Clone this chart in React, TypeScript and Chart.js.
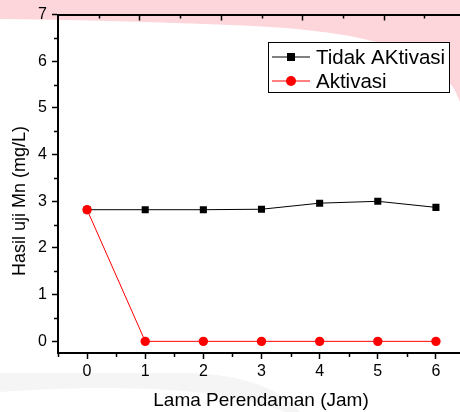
import React, { useEffect, useRef } from 'react';
import { Chart, registerables } from 'chart.js';
Chart.register(...registerables);

// ---- data ----
const hours = [0, 1, 2, 3, 4, 5, 6];
const tidakAktivasi = [2.82, 2.82, 2.82, 2.83, 2.96, 3.0, 2.87];
const aktivasi = [2.82, 0, 0, 0, 0, 0, 0];
const seriesLabels = ['Tidak AKtivasi', 'Aktivasi'];
const xTickValues = [0, 1, 2, 3, 4, 5, 6];
const yTickValues = [0, 1, 2, 3, 4, 5, 6, 7];
const xTitle = 'Lama Perendaman (Jam)';
const yTitle = 'Hasil uji Mn (mg/L)';

const FONT = '"Liberation Sans", Arial, sans-serif';
const VIEW_W = 460;
const VIEW_H = 412;
const CANVAS_W = 470; // the figure's right edge runs past the photographed frame

const backgroundPlugin = {
  id: 'slideBackground',
  beforeDraw(chart: any) {
    const { ctx, height } = chart;
    const width = VIEW_W;
    ctx.save();
    ctx.fillStyle = '#ffffff';
    ctx.fillRect(0, 0, chart.width, height);
    // pink swoosh at top
    ctx.fillStyle = '#fdd6db';
    ctx.beginPath();
    ctx.moveTo(0, 0);
    ctx.lineTo(chart.width, 0);
    ctx.lineTo(chart.width, 110);
    ctx.lineTo(width, 102);
    ctx.bezierCurveTo(width - 15, 55, width - 80, 30, 230, 25);
    ctx.quadraticCurveTo(100, 20, 0, 19);
    ctx.closePath();
    ctx.fill();
    // grey swoosh at bottom
    ctx.fillStyle = '#f5f5f5';
    ctx.beginPath();
    ctx.moveTo(0, 373);
    ctx.lineTo(190, 373);
    ctx.quadraticCurveTo(270, 376, 300, height);
    ctx.lineTo(0, height);
    ctx.closePath();
    ctx.fill();
    ctx.fillStyle = '#ffffff';
    ctx.beginPath();
    ctx.moveTo(0, height);
    ctx.lineTo(0, 392);
    ctx.quadraticCurveTo(200, 378, 285, height);
    ctx.closePath();
    ctx.fill();
    ctx.restore();
  },
};

const ticksPlugin = {
  id: 'extraTicks',
  afterDraw(chart: any) {
    const { ctx, chartArea } = chart;
    const x = chart.scales.x;
    const y = chart.scales.y;
    const x2 = chart.scales.x2;
    ctx.save();
    ctx.strokeStyle = '#000';
    ctx.lineWidth = 1.5;
    ctx.beginPath();
    // minor ticks left axis
    for (let v = 0.5; v < 7; v += 1) {
      const py = Math.round(y.getPixelForValue(v)) + 0.5;
      ctx.moveTo(chartArea.left - 4, py);
      ctx.lineTo(chartArea.left, py);
    }
    // minor ticks bottom axis
    for (let v = -0.5; v <= 6.5; v += 1) {
      const px = Math.round(x.getPixelForValue(v)) + 0.5;
      ctx.moveTo(px, chartArea.bottom);
      ctx.lineTo(px, chartArea.bottom + 4);
    }
    // inward ticks on top axis
    for (let v = 0.5; v <= 4.5; v += 0.5) {
      const px = Math.round(x2.getPixelForValue(v)) + 0.5;
      const len = Number.isInteger(v) ? 6 : 4;
      ctx.moveTo(px, chartArea.top);
      ctx.lineTo(px, chartArea.top + len);
    }
    ctx.stroke();
    // y axis title
    ctx.fillStyle = '#000';
    ctx.font = `18px ${FONT}`;
    ctx.textAlign = 'center';
    ctx.textBaseline = 'middle';
    ctx.translate(20.5, 201);
    ctx.rotate(-Math.PI / 2);
    ctx.fillText(yTitle, 0, 0);
    ctx.restore();
  },
};

const legendPlugin = {
  id: 'boxLegend',
  afterDraw(chart: any) {
    const { ctx } = chart;
    const bx = 268.5, by = 42.5, bw = 181, bh = 50;
    ctx.save();
    ctx.fillStyle = '#ffffff';
    ctx.fillRect(bx, by, bw, bh);
    ctx.strokeStyle = '#000';
    ctx.lineWidth = 1;
    ctx.strokeRect(bx, by, bw, bh);
    const rows = [57, 81];
    chart.data.datasets.forEach((ds: any, i: number) => {
      const cy = rows[i];
      ctx.strokeStyle = ds.borderColor;
      ctx.lineWidth = 1;
      ctx.beginPath();
      ctx.moveTo(272, cy);
      ctx.lineTo(310, cy);
      ctx.stroke();
      ctx.fillStyle = ds.pointBackgroundColor;
      if (ds.pointStyle === 'rect') {
        ctx.fillRect(291 - 4, cy - 4, 8, 8);
      } else {
        ctx.beginPath();
        ctx.arc(291, cy, 5, 0, Math.PI * 2);
        ctx.fill();
      }
      ctx.fillStyle = '#000';
      ctx.font = `20.5px ${FONT}`;
      ctx.textBaseline = 'middle';
      ctx.textAlign = 'left';
      ctx.fillText(ds.label, 316, cy + 1);
    });
    ctx.restore();
  },
};

export default function App() {
  const ref = useRef<HTMLCanvasElement | null>(null);
  useEffect(() => {
    document.body.style.margin = '0';
    document.body.style.overflow = 'hidden';
    const canvas = ref.current!;
    const chart = new Chart(canvas, {
      type: 'line',
      data: {
        datasets: [
          {
            label: seriesLabels[0],
            data: hours.map((h, i) => ({ x: h, y: tidakAktivasi[i] })),
            borderColor: '#000000',
            backgroundColor: '#000000',
            pointBackgroundColor: '#000000',
            pointStyle: 'rect',
            pointRadius: 5,
            pointBorderWidth: 0,
            borderWidth: 1,
            order: 1,
          },
          {
            label: seriesLabels[1],
            data: hours.map((h, i) => ({ x: h, y: aktivasi[i] })),
            borderColor: '#ff0000',
            backgroundColor: '#ff0000',
            pointBackgroundColor: '#ff0000',
            pointStyle: 'circle',
            pointRadius: 4.7,
            pointBorderWidth: 0,
            borderWidth: 1,
            order: 0,
          },
        ],
      },
      options: {
        animation: false,
        responsive: false,
        layout: { padding: 0 },
        plugins: { legend: { display: false }, tooltip: { enabled: false } },
        scales: {
          x: {
            type: 'linear',
            position: 'bottom',
            bounds: 'data',
            min: -0.5,
            max: 6.5,
            afterBuildTicks: (s: any) => { s.ticks = xTickValues.map((v) => ({ value: v })); },
            afterFit: (s: any) => { s.height = 59; },
            ticks: { color: '#000', font: { family: FONT, size: 16 }, padding: 3, maxRotation: 0, autoSkip: false },
            grid: { drawOnChartArea: false, tickLength: 6, tickColor: '#000', tickWidth: 1.5 },
            border: { color: '#000', width: 2 },
            title: { display: false, text: xTitle },
          },
          x2: {
            type: 'linear',
            position: 'top',
            bounds: 'data',
            min: 0,
            max: 5,
            afterFit: (s: any) => { s.height = 14; },
            ticks: { display: false },
            grid: { drawOnChartArea: false, drawTicks: false },
            border: { color: '#000', width: 2 },
          },
          y: {
            type: 'linear',
            position: 'left',
            bounds: 'data',
            min: -0.25,
            max: 7,
            afterBuildTicks: (s: any) => { s.ticks = yTickValues.map((v) => ({ value: v })); },
            afterFit: (s: any) => { s.width = 58; },
            ticks: { color: '#000', font: { family: FONT, size: 16 }, padding: 5, autoSkip: false },
            grid: { drawOnChartArea: false, tickLength: 6, tickColor: '#000', tickWidth: 1.5 },
            border: { color: '#000', width: 2 },
            title: { display: false, text: yTitle },
          },
        },
      } as any,
      plugins: [
        backgroundPlugin,
        ticksPlugin,
        legendPlugin,
        {
          id: 'xTitle',
          afterDraw(c: any) {
            const { ctx } = c;
            ctx.save();
            ctx.fillStyle = '#000';
            ctx.font = `19px ${FONT}`;
            ctx.textAlign = 'center';
            ctx.textBaseline = 'middle';
            ctx.fillText(xTitle, 261, 401);
            ctx.restore();
          },
        },
      ],
    });
    return () => chart.destroy();
  }, []);
  return (
    <div style={{ position: 'fixed', left: 0, top: 0, width: VIEW_W, height: VIEW_H, overflow: 'hidden' }}>
      <canvas ref={ref} width={CANVAS_W} height={VIEW_H} style={{ display: 'block', width: CANVAS_W, height: VIEW_H }} />
    </div>
  );
}
